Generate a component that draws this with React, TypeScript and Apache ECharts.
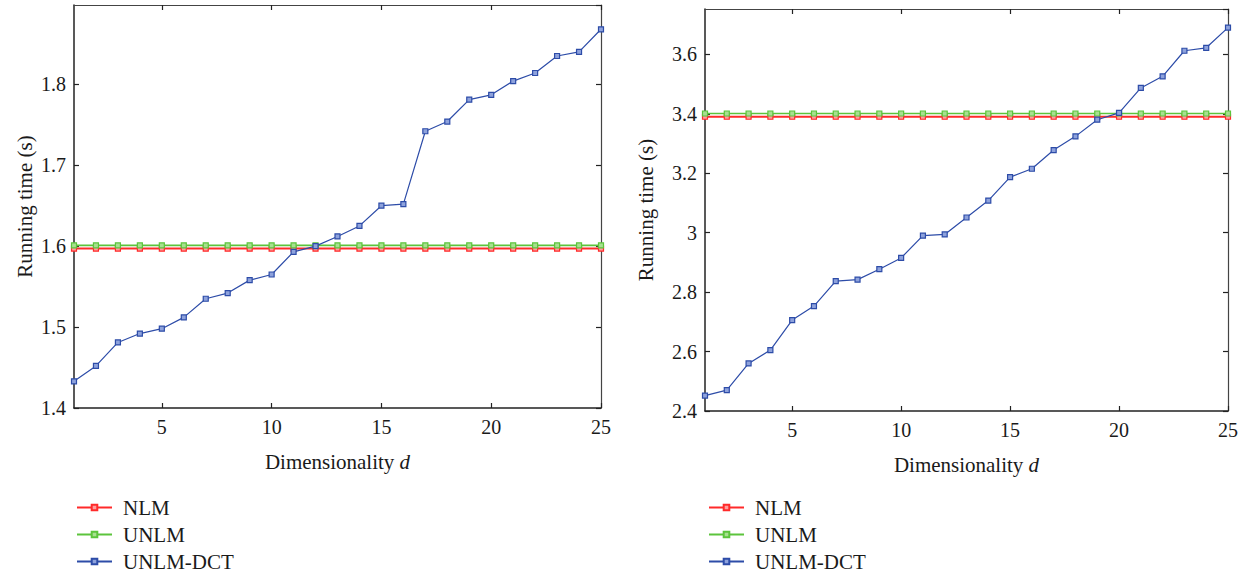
import React, { useEffect, useRef } from "react";
import * as echarts from "echarts";

const DIMS = [1, 2, 3, 4, 5, 6, 7, 8, 9, 10, 11, 12, 13, 14, 15, 16, 17, 18, 19, 20, 21, 22, 23, 24, 25];
const SERIES_NAMES = ["NLM", "UNLM", "UNLM-DCT"];

// Left panel
const LEFT_NLM = [1.597, 1.597, 1.597, 1.597, 1.597, 1.597, 1.597, 1.597, 1.597, 1.597, 1.597, 1.597, 1.597, 1.597, 1.597, 1.597, 1.597, 1.597, 1.597, 1.597, 1.597, 1.597, 1.597, 1.597, 1.597];
const LEFT_UNLM = [1.601, 1.601, 1.601, 1.601, 1.601, 1.601, 1.601, 1.601, 1.601, 1.601, 1.601, 1.601, 1.601, 1.601, 1.601, 1.601, 1.601, 1.601, 1.601, 1.601, 1.601, 1.601, 1.601, 1.601, 1.601];
const LEFT_DCT = [1.433, 1.452, 1.481, 1.492, 1.498, 1.512, 1.535, 1.542, 1.558, 1.565, 1.593, 1.600, 1.612, 1.625, 1.650, 1.652, 1.742, 1.754, 1.781, 1.787, 1.804, 1.814, 1.835, 1.840, 1.868];

// Right panel
const RIGHT_NLM = [3.39, 3.39, 3.39, 3.39, 3.39, 3.39, 3.39, 3.39, 3.39, 3.39, 3.39, 3.39, 3.39, 3.39, 3.39, 3.39, 3.39, 3.39, 3.39, 3.39, 3.39, 3.39, 3.39, 3.39, 3.39];
const RIGHT_UNLM = [3.401, 3.401, 3.401, 3.401, 3.401, 3.401, 3.401, 3.401, 3.401, 3.401, 3.401, 3.401, 3.401, 3.401, 3.401, 3.401, 3.401, 3.401, 3.401, 3.401, 3.401, 3.401, 3.401, 3.401, 3.401];
const RIGHT_DCT = [2.452, 2.470, 2.560, 2.605, 2.706, 2.753, 2.837, 2.842, 2.877, 2.915, 2.990, 2.994, 3.051, 3.108, 3.187, 3.215, 3.278, 3.324, 3.380, 3.403, 3.487, 3.526, 3.612, 3.622, 3.690];

const X_TICKS = [5, 10, 15, 20, 25];
const LEFT_Y = { min: 1.4, max: 1.898, interval: 0.1 };
const RIGHT_Y = { min: 2.4, max: 3.7525, interval: 0.2 };

const X_TITLE = "Dimensionality {i|d}";
const Y_TITLE = "Running time (s)";

const COLORS = ["#ff2a2a", "#5cc43c", "#2d4ca8"];
const FILLS = ["#ff9c9c", "#a8e090", "#8ea2dc"];
const WIDTHS = [2, 1.6, 1.2];

const FONT = "Liberation Serif, DejaVu Serif, serif";
const TEXT = "#1a1a1a";

export default function App() {
  const ref = useRef<HTMLDivElement>(null);

  useEffect(() => {
    if (!ref.current) return;
    const chart = echarts.init(ref.current, undefined, { renderer: "svg" });

    const grids = [
      { left: 74, top: 5, width: 527, height: 403 },
      { left: 705, top: 9, width: 523, height: 402 },
    ];
    const yCfg = [LEFT_Y, RIGHT_Y];
    const nameGaps = [39, 49];

    const xAxes: any[] = [];
    const yAxes: any[] = [];
    grids.forEach((_, g) => {
      xAxes.push({
        type: "value",
        gridIndex: g,
        min: 1,
        max: 25,
        position: "bottom",
        name: X_TITLE,
        nameLocation: "middle",
        nameGap: 43,
        nameTextStyle: {
          fontFamily: FONT,
          fontSize: 21,
          color: TEXT,
          rich: { i: { fontFamily: FONT, fontSize: 21, fontStyle: "italic", color: TEXT } },
        },
        axisLine: { show: true, onZero: false, lineStyle: { color: "#222", width: 1.5 } },
        axisTick: { show: true, inside: true, length: 5, customValues: X_TICKS, lineStyle: { color: "#222", width: 1.2 } },
        axisLabel: { show: true, customValues: X_TICKS, margin: 9, fontFamily: FONT, fontSize: 20, color: TEXT },
        splitLine: { show: false },
      });
      xAxes.push({
        type: "value",
        gridIndex: g,
        min: 1,
        max: 25,
        position: "top",
        axisLine: { show: true, onZero: false, lineStyle: { color: "#444", width: 1.2 } },
        axisTick: { show: true, inside: true, length: 5, customValues: X_TICKS, lineStyle: { color: "#222", width: 1.2 } },
        axisLabel: { show: false },
        splitLine: { show: false },
      });
      const y = yCfg[g];
      yAxes.push({
        type: "value",
        gridIndex: g,
        min: y.min,
        max: y.max,
        interval: y.interval,
        position: "left",
        name: Y_TITLE,
        nameLocation: "middle",
        nameGap: nameGaps[g],
        nameTextStyle: { fontFamily: FONT, fontSize: 21, color: TEXT },
        axisLine: { show: true, onZero: false, lineStyle: { color: "#222", width: 1.5 } },
        axisTick: { show: true, inside: true, length: 5, lineStyle: { color: "#222", width: 1.2 } },
        axisLabel: {
          show: true,
          margin: 8,
          showMaxLabel: false,
          fontFamily: FONT,
          fontSize: 20,
          color: TEXT,
          formatter: (v: number) => String(Math.round(v * 10) / 10),
        },
        splitLine: { show: false },
      });
      yAxes.push({
        type: "value",
        gridIndex: g,
        min: y.min,
        max: y.max,
        interval: y.interval,
        position: "right",
        axisLine: { show: true, onZero: false, lineStyle: { color: "#444", width: 1.2 } },
        axisTick: { show: true, inside: true, length: 5, lineStyle: { color: "#222", width: 1.2 } },
        axisLabel: { show: false },
        splitLine: { show: false },
      });
    });

    const panelData = [
      [LEFT_NLM, LEFT_UNLM, LEFT_DCT],
      [RIGHT_NLM, RIGHT_UNLM, RIGHT_DCT],
    ];

    const series: any[] = [];
    panelData.forEach((arrs, g) => {
      arrs.forEach((vals, k) => {
        series.push({
          type: "line",
          name: SERIES_NAMES[k],
          xAxisIndex: g * 2,
          yAxisIndex: g * 2,
          data: DIMS.map((d, i) => [d, vals[i]]),
          symbol: "rect",
          symbolSize: 5,
          showAllSymbol: true,
          lineStyle: { color: COLORS[k], width: WIDTHS[k] },
          itemStyle: { color: FILLS[k], borderColor: COLORS[k], borderWidth: 1.2 },
          emphasis: { disabled: true },
          z: 2 + k,
        });
      });
    });

    const legendBase = {
      orient: "vertical",
      top: 497,
      height: 200,
      padding: 0,
      itemWidth: 35,
      itemHeight: 7,
      itemGap: 6,
      data: SERIES_NAMES,
      selectedMode: false,
      textStyle: { fontFamily: FONT, fontSize: 21, color: TEXT, lineHeight: 20, padding: [0, 0, 0, 6] },
    };

    chart.setOption({
      animation: false,
      backgroundColor: "#ffffff",
      textStyle: { fontFamily: FONT },
      grid: grids,
      xAxis: xAxes,
      yAxis: yAxes,
      series,
      legend: [
        { ...legendBase, left: 76 },
        { ...legendBase, left: 708 },
      ],
    });

    return () => chart.dispose();
  }, []);

  return (
    <div
      ref={ref}
      style={{ width: 1246, height: 575, position: "absolute", left: 0, top: 0, background: "#fff" }}
    />
  );
}
